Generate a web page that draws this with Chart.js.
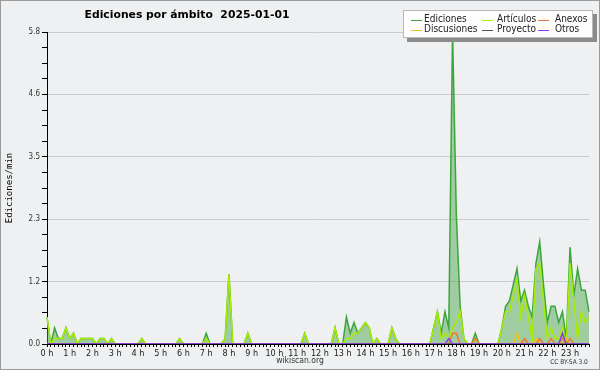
<!DOCTYPE html>
<html>
<head>
<meta charset="utf-8">
<script src="https://cdn.jsdelivr.net/npm/chart.js@4.4.1/dist/chart.umd.min.js"></script>
<style>
html, body { margin: 0; padding: 0; background: #eef0f1; }
</style>
</head>
<body>
<canvas id="edChart" width="600" height="370"></canvas>
<script>
var titleText = 'Ediciones por ámbito  2025-01-01';
var hours = ['0 h','1 h','2 h','3 h','4 h','5 h','6 h','7 h','8 h','9 h','10 h','11 h',
             '12 h','13 h','14 h','15 h','16 h','17 h','18 h','19 h','20 h','21 h','22 h','23 h'];
var yMax = 5.8;
var yStep = 0.29;   // 4 minor steps per labelled step

// one slot every 10 minutes
var slots = [];
hours.forEach(function(h, i) {
    ['00', '10', '20', '30', '40', '50'].forEach(function(m) { slots.push(i + ':' + m); });
});

// edits per minute, 6 values per hour
var ediciones = [
    0.5,0,0.3,0.1,0.1,0.3, 0.1,0.2,0,0.1,0.1,0.1, 0.1,0,0.1,0.1,0,0.1, 0,0,0,0,0,0,
    0,0.1,0,0,0,0, 0,0,0,0,0,0.1, 0,0,0,0,0,0, 0.2,0,0,0,0,0.1,
    1.3,0,0,0,0,0.2, 0,0,0,0,0,0, 0,0,0,0,0,0, 0,0,0.2,0,0,0,
    0,0,0,0,0.3,0, 0,0.5,0.2,0.4,0.2,0.3, 0.4,0.3,0,0.1,0,0, 0,0.3,0.1,0,0,0,
    0,0,0,0,0,0, 0.3,0.6,0.2,0.6,0.3,5.8, 2.4,0.7,0.1,0,0,0.2, 0,0,0,0,0,0,
    0.3,0.7,0.8,1.1,1.4,0.8, 1.0,0.7,0.5,1.5,1.9,1.1, 0.4,0.7,0.7,0.4,0.6,0.1, 1.8,0.9,1.4,1.0,1.0,0.6
];
var articulos = [
    0.5,0,0.1,0.1,0.1,0.3, 0.1,0.2,0,0.1,0.1,0.1, 0.1,0,0.1,0.1,0,0.1, 0,0,0,0,0,0,
    0,0.1,0,0,0,0, 0,0,0,0,0,0.1, 0,0,0,0,0,0, 0.1,0,0,0,0,0.1,
    1.3,0,0,0,0,0.2, 0,0,0,0,0,0, 0,0,0,0,0,0, 0,0,0.2,0,0,0,
    0,0,0,0,0.3,0, 0,0.1,0.1,0.2,0.2,0.3, 0.4,0.3,0,0.1,0,0, 0,0.3,0.1,0,0,0,
    0,0,0,0,0,0, 0.3,0.6,0.1,0.2,0.1,0.3, 0.4,0.6,0.1,0,0,0.1, 0,0,0,0,0,0,
    0.3,0.6,0.6,0.9,1.2,0.5, 0.9,0.5,0.1,1.4,1.5,0.8, 0.1,0.3,0.1,0.1,0.3,0, 1.5,0.8,0.1,0.6,0.4,0.5
];
var anexos = [
    0,0,0,0,0,0, 0,0,0,0,0,0, 0,0,0,0,0,0, 0,0,0,0,0,0,
    0,0,0,0,0,0, 0,0,0,0,0,0, 0,0,0,0,0,0, 0,0,0,0,0,0,
    0,0,0,0,0,0, 0,0,0,0,0,0, 0,0,0,0,0,0, 0,0,0,0,0,0,
    0,0,0,0,0,0, 0,0,0,0,0,0, 0,0,0,0,0,0, 0,0,0,0,0,0,
    0,0,0,0,0,0, 0,0,0,0,0,0.2, 0.2,0,0,0,0,0.1, 0,0,0,0,0,0,
    0,0,0,0,0,0, 0.1,0,0,0,0.1,0, 0,0.1,0,0,0.1,0, 0.1,0,0,0,0,0
];
var discusiones = [
    0,0,0,0,0,0, 0,0,0,0,0,0, 0,0,0,0,0,0, 0,0,0,0,0,0,
    0,0,0,0,0,0, 0,0,0,0,0,0, 0,0,0,0,0,0, 0,0,0,0,0,0,
    0,0,0,0,0,0, 0,0,0,0,0,0, 0,0,0,0,0,0, 0,0,0,0,0,0,
    0,0,0,0,0,0, 0,0,0,0,0,0, 0,0,0,0,0,0, 0,0,0,0,0,0,
    0,0,0,0,0,0, 0,0,0,0,0,0, 0,0,0,0,0,0, 0,0,0,0,0,0,
    0,0,0,0,0.2,0, 0,0,0,0.1,0,0, 0,0,0,0,0,0.1, 0,0,0,0,0,0
];
var proyecto = [
    0,0,0,0,0,0, 0,0,0,0,0,0, 0,0,0,0,0,0, 0,0,0,0,0,0,
    0,0,0,0,0,0, 0,0,0,0,0,0, 0,0,0,0,0,0, 0,0,0,0,0,0,
    0,0,0,0,0,0, 0,0,0,0,0,0, 0,0,0,0,0,0, 0,0,0,0,0,0,
    0,0,0,0,0,0, 0,0,0,0,0,0, 0,0,0,0,0,0, 0,0,0,0,0,0,
    0,0,0,0,0,0, 0,0,0,0,0,0, 0,0,0,0,0,0, 0,0,0,0,0,0,
    0,0,0,0,0,0, 0,0,0,0,0,0, 0,0,0,0,0,0, 0,0,0,0,0,0
];
var otros = [
    0,0,0,0,0,0, 0,0,0,0,0,0, 0,0,0,0,0,0, 0,0,0,0,0,0,
    0,0,0,0,0,0, 0,0,0,0,0,0, 0,0,0,0,0,0, 0,0,0,0,0,0,
    0,0,0,0,0,0, 0,0,0,0,0,0, 0,0,0,0,0,0, 0,0,0,0,0,0,
    0,0,0,0,0,0, 0,0,0,0,0,0, 0,0,0,0,0,0, 0,0,0,0,0,0,
    0,0,0,0,0,0, 0,0,0,0,0.1,0, 0,0,0,0,0,0, 0,0,0,0,0,0,
    0,0,0,0,0,0, 0,0,0,0,0,0, 0,0,0,0,0.2,0, 0,0,0,0,0,0
];

var bg = '#eef0f1';

// legend is drawn by hand: 3 columns, 2 rows in a box with a shadow
var legendCols = [[411, 424], [482, 497], [538, 555]];
var legendRows = [19.5, 29.5];

var decor = {
    id: 'decor',
    beforeDraw: function(chart) {
        var c = chart.ctx;
        c.save();
        c.fillStyle = bg;
        c.fillRect(0, 0, chart.width, chart.height);
        c.restore();
    },
    afterDraw: function(chart) {
        var c = chart.ctx;
        c.save();
        c.textBaseline = 'middle';

        c.fillStyle = '#000';
        c.textAlign = 'center';
        c.font = 'bold 10.8px "DejaVu Sans"';
        c.fillText(titleText, 187, 15);

        c.fillStyle = '#333';
        c.font = '8.5px "DejaVu Sans Condensed"';
        c.fillText('wikiscan.org', 300, 361);
        c.font = '6.5px "DejaVu Sans Condensed"';
        c.fillText('CC BY-SA 3.0', 569, 362);

        // legend box
        c.fillStyle = '#8c8c8c';
        c.fillRect(407, 14, 190, 28);
        c.fillStyle = '#fdfdfd';
        c.fillRect(403, 10, 190, 28);
        c.strokeStyle = '#b8b8b8';
        c.lineWidth = 1;
        c.strokeRect(403.5, 10.5, 189, 27);

        c.textAlign = 'left';
        c.font = '10px "DejaVu Sans Condensed"';
        chart.data.datasets.forEach(function(ds, k) {
            var col = legendCols[k % 3], y = legendRows[Math.floor(k / 3)];
            c.strokeStyle = ds.borderColor;
            c.beginPath();
            c.moveTo(col[0], Math.round(y) + 0.5);
            c.lineTo(col[0] + 11, Math.round(y) + 0.5);
            c.stroke();
            c.fillStyle = '#222';
            c.fillText(ds.label, col[1], y);
        });

        c.strokeStyle = '#9a9a9a';
        c.strokeRect(0.5, 0.5, chart.width - 1, chart.height - 1);
        c.restore();
    }
};

var ctx = document.getElementById('edChart').getContext('2d');
var edChart = new Chart(ctx, {
    type: 'line',
    data: {
        labels: slots,
        datasets: [
            { label: 'Ediciones', data: ediciones, borderColor: '#3ca63c', backgroundColor: 'rgba(76,166,76,0.48)', fill: 'origin', order: 6 },
            { label: 'Artículos', data: articulos, borderColor: '#a8ec00', fill: false, order: 5 },
            { label: 'Anexos', data: anexos, borderColor: '#f07830', fill: false, order: 3 },
            { label: 'Discusiones', data: discusiones, borderColor: '#f2c218', fill: false, order: 4 },
            { label: 'Proyecto', data: proyecto, borderColor: '#505050', fill: false, order: 2 },
            { label: 'Otros', data: otros, borderColor: '#8a3cf0', fill: false, order: 1 }
        ]
    },
    options: {
        responsive: false,
        animation: false,
        layout: { padding: { top: 32, right: 11, left: 0, bottom: 0 } },
        plugins: {
            legend: { display: false },
            title: { display: false },
            tooltip: { enabled: false }
        },
        elements: {
            point: { radius: 0 },
            line: { tension: 0, borderWidth: 1.5 }
        },
        scales: {
            x: {
                type: 'category',
                offset: false,
                z: 1,
                afterFit: function(s) { s.height = 26; },
                border: { color: '#000', width: 1 },
                grid: { drawOnChartArea: false, offset: false, tickLength: 3, tickColor: '#000', color: '#000' },
                ticks: {
                    autoSkip: false, maxRotation: 0, minRotation: 0, padding: 1,
                    color: '#222',
                    font: { family: 'DejaVu Sans Condensed', size: 9 },
                    callback: function(v, i) { return i % 6 === 0 ? hours[i / 6] : ''; }
                }
            },
            y: {
                min: 0,
                max: yMax,
                afterFit: function(s) { s.width = 47; },
                border: { color: '#000', width: 1 },
                grid: {
                    color: function(c) { return c.index % 4 === 0 ? '#cbcbcb' : 'rgba(0,0,0,0)'; },
                    tickColor: '#000',
                    tickLength: 5
                },
                ticks: {
                    stepSize: yStep,
                    padding: 2,
                    color: '#333',
                    font: { family: 'DejaVu Sans Condensed', size: 8 },
                    callback: function(v, i) { return i % 4 === 0 ? v.toFixed(1) : ''; }
                },
                title: {
                    display: true,
                    text: 'Ediciones/min',
                    color: '#000',
                    font: { family: 'DejaVu Sans Mono', size: 9 },
                    padding: { top: 4, bottom: 0 }
                }
            }
        }
    },
    plugins: [decor]
});
</script>
</body>
</html>
